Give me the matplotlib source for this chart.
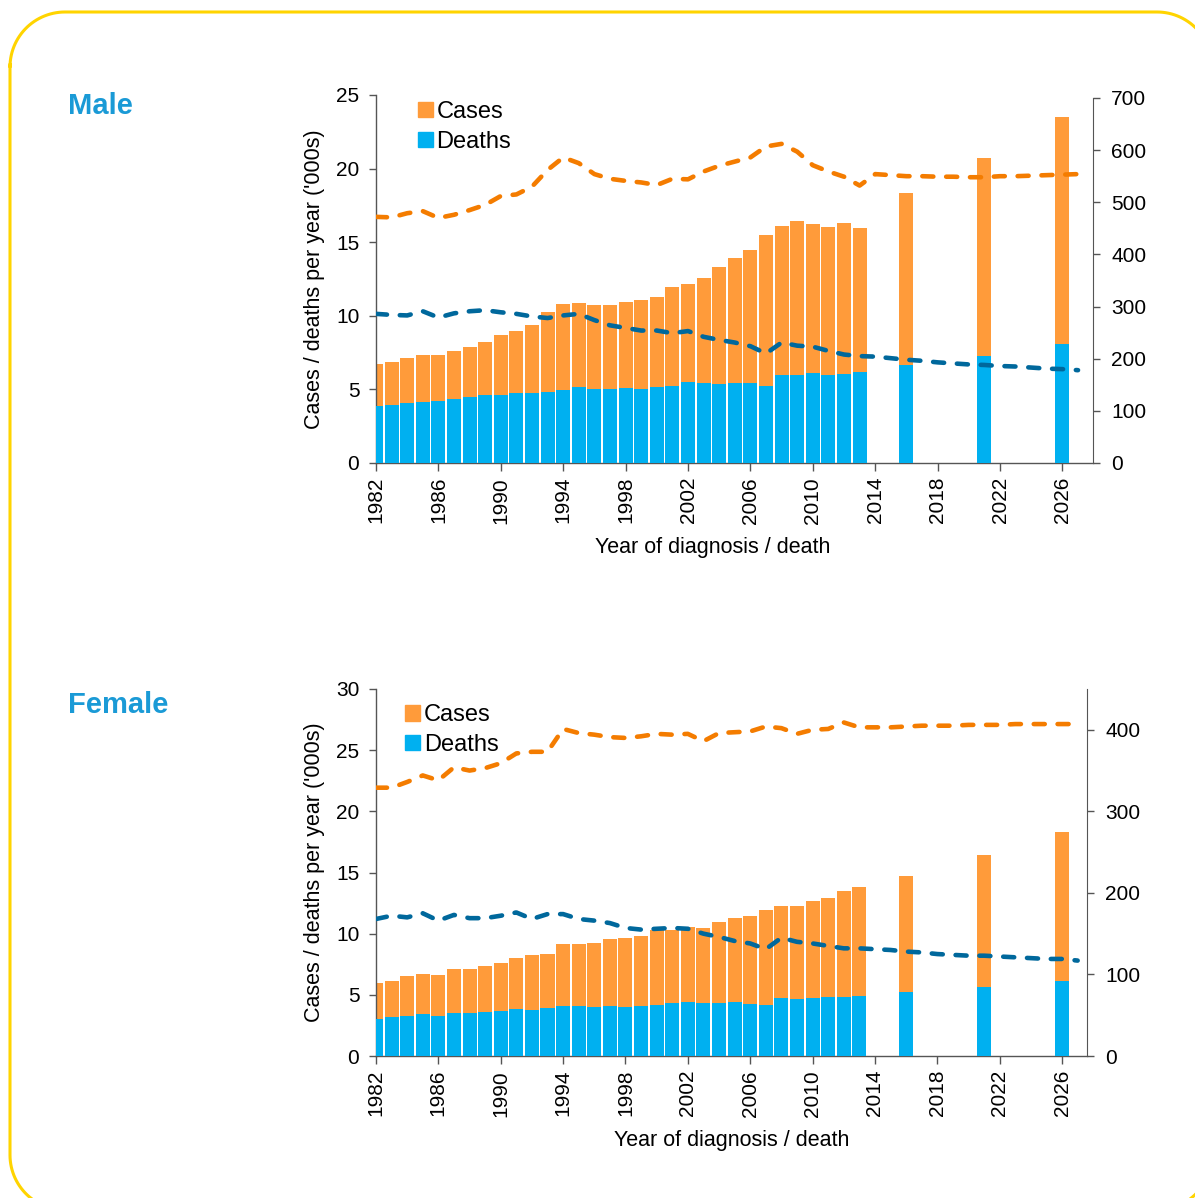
import numpy as np
import matplotlib
matplotlib.use('Agg')
from matplotlib import pyplot as plt
from matplotlib.lines import Line2D
from matplotlib.patches import Patch
from matplotlib.transforms import IdentityTransform

plt.rcParams['font.family'] = ['Liberation Sans', 'DejaVu Sans']

# years with observed data, projection years, and years for the rate lines
years = list(range(1982, 2014))
proj_years = [2016, 2021, 2026]
rate_years = list(range(1982, 2028))

# counts in '000s
male_cases = [6.70, 6.84, 7.13, 7.31, 7.31, 7.59, 7.88, 8.22, 8.70, 8.99, 9.38, 10.26, 10.82, 10.87, 10.71, 10.76,
              10.92, 11.10, 11.30, 11.93, 12.18, 12.59, 13.32, 13.91, 14.47, 15.49, 16.12, 16.44, 16.24, 16.05, 16.33, 15.99]
male_deaths = [3.87, 3.94, 4.08, 4.17, 4.21, 4.32, 4.48, 4.64, 4.60, 4.73, 4.76, 4.82, 4.98, 5.19, 5.05, 5.03,
               5.11, 5.05, 5.19, 5.25, 5.48, 5.43, 5.39, 5.43, 5.41, 5.25, 5.96, 5.96, 6.09, 6.00, 6.05, 6.18]
male_proj_cases = [18.32, 20.74, 23.53]
male_proj_deaths = [6.66, 7.29, 8.08]

female_cases = [5.99, 6.13, 6.54, 6.68, 6.65, 7.11, 7.14, 7.36, 7.58, 8.04, 8.23, 8.34, 9.13, 9.16, 9.24, 9.54,
                9.65, 9.81, 10.30, 10.33, 10.55, 10.44, 10.98, 11.26, 11.47, 11.96, 12.24, 12.24, 12.70, 12.95, 13.49, 13.79]
female_deaths = [3.03, 3.19, 3.27, 3.41, 3.30, 3.52, 3.49, 3.57, 3.65, 3.84, 3.76, 3.95, 4.09, 4.06, 4.01, 4.09,
                 3.98, 4.09, 4.17, 4.33, 4.42, 4.33, 4.33, 4.42, 4.28, 4.17, 4.71, 4.66, 4.77, 4.82, 4.85, 4.88]
female_proj_cases = [14.72, 16.46, 18.32]
female_proj_deaths = [5.21, 5.62, 6.16]

# rates (right axis), 1982-2027
male_case_rate = [472, 471, 479, 483, 470, 476, 485, 495, 512, 515, 530, 562, 586, 575, 554, 545,
                  541, 538, 533, 545, 544, 559, 570, 578, 586, 607, 612, 597, 571, 559, 549, 532,
                  554, 552, 550, 550, 549, 549, 548, 548, 550, 550, 551, 552, 553, 554]
male_death_rate = [286, 284, 283, 291, 279, 287, 291, 293, 289, 286, 281, 278, 283, 286, 274, 264,
                   259, 254, 254, 249, 253, 242, 236, 231, 224, 210, 231, 225, 223, 215, 208, 205,
                   204, 201, 198, 196, 193, 191, 189, 188, 186, 185, 183, 181, 180, 178]
female_case_rate = [329, 329, 336, 344, 338, 354, 350, 353, 359, 371, 373, 373, 401, 396, 394, 391,
                    390, 392, 395, 394, 395, 386, 396, 397, 398, 404, 402, 395, 400, 401, 409, 403,
                    403, 403, 404, 405, 405, 405, 406, 406, 406, 407, 407, 407, 407, 407]
female_death_rate = [168, 172, 170, 175, 166, 173, 169, 169, 172, 176, 168, 174, 174, 168, 166, 163,
                     157, 155, 156, 157, 156, 150, 146, 141, 138, 131, 145, 140, 138, 135, 132, 132,
                     131, 130, 128, 127, 125, 124, 123, 123, 122, 121, 120, 119, 119, 117]

xticks = list(range(1982, 2027, 4))

c_cases = '#FF9B3A'
c_deaths = '#00B0F0'
c_case_line = '#F47C00'
c_death_line = '#00689C'
c_head = '#1A9AD6'
c_axis = '#555555'

fig = plt.figure(figsize=(11.95, 11.98), dpi=100)

# rounded yellow frame in pixel coords (right and bottom edges run off the page)
r = 55
x0, x1, y0, y1 = 10, 1212, -12, 1186
corners = [((x0 + r, y1 - r), np.pi, np.pi / 2),
           ((x1 - r, y1 - r), np.pi / 2, 0),
           ((x1 - r, y0 + r), 0, -np.pi / 2),
           ((x0 + r, y0 + r), -np.pi / 2, -np.pi)]
fx, fy = [], []
for (cx, cy), a0, a1 in corners:
    a = np.linspace(a0, a1, 30)
    fx.extend(cx + r * np.cos(a))
    fy.extend(cy + r * np.sin(a))
fx.extend(fx[:2])
fy.extend(fy[:2])
frame = Line2D(fx, fy, transform=IdentityTransform(), color='#FFD400', lw=2.2,
               solid_capstyle='round', solid_joinstyle='round')
frame.set_snap(False)
fig.lines.append(frame)

FS = 15


def panel(rect, cases, deaths, pcases, pdeaths, crate, drate, ylim, rlim, rticks, xmax, rbound, legx, legy, xlabx):
    ax = fig.add_axes(rect)
    ax.bar(years + proj_years, cases + pcases, width=0.9, color=c_cases, zorder=2)
    ax.bar(years + proj_years, deaths + pdeaths, width=0.9, color=c_deaths, zorder=3)
    ax.set_xlim(1982, xmax)
    ax.set_ylim(0, ylim)
    ax.set_yticks(np.arange(0, ylim + 1, 5))
    ax.set_xticks(xticks)
    ax.set_xticklabels([str(x) for x in xticks], rotation=90)
    ax.spines['top'].set_visible(False)
    ax.spines['right'].set_visible(False)
    for s in ['left', 'bottom']:
        ax.spines[s].set_color(c_axis)
        ax.spines[s].set_linewidth(1.0)
    ax.tick_params(axis='y', labelsize=FS, length=5, width=1, color=c_axis, pad=7)
    ax.tick_params(axis='x', labelsize=FS, length=6, width=1, color=c_axis, pad=4)
    ax.set_ylabel("Cases / deaths per year ('000s)", fontsize=15.5, labelpad=8)
    ax.set_xlabel('Year of diagnosis / death', fontsize=15.5)
    ax.xaxis.set_label_coords(xlabx, -0.201)

    ax2 = ax.twinx()
    ax2.plot(rate_years, crate, color=c_case_line, lw=3.3, linestyle=(0, (2.4, 2.8)),
             dash_capstyle='round')
    ax2.plot(rate_years, drate, color=c_death_line, lw=3.3, linestyle=(0, (2.4, 2.8)),
             dash_capstyle='round')
    ax2.set_ylim(0, rlim)
    ax2.set_yticks(rticks)
    for s in ['top', 'left', 'bottom']:
        ax2.spines[s].set_visible(False)
    ax2.spines['right'].set_color(c_axis)
    ax2.spines['right'].set_bounds(0, rbound)
    ax2.tick_params(axis='y', labelsize=FS, length=5, width=1, color=c_axis, pad=8)

    handles = [Patch(color=c_cases, label='Cases'), Patch(color=c_deaths, label='Deaths')]
    ax.legend(handles=handles, loc='upper left', bbox_to_anchor=(legx, legy), frameon=False,
              fontsize=17, handlelength=0.65, handleheight=0.65, handletextpad=0.15, labelspacing=0.33,
              borderpad=0, borderaxespad=0)
    return ax, ax2


panel([376 / 1195, 1 - 463 / 1198, 717 / 1195, 368 / 1198],
      male_cases, male_deaths, male_proj_cases, male_proj_deaths, male_case_rate, male_death_rate,
      25, 705.7, list(range(0, 701, 100)), 2027.96, 700, 0.058, 0.984, 0.47)

panel([376 / 1195, 1 - 1056 / 1198, 711 / 1195, 367 / 1198],
      female_cases, female_deaths, female_proj_cases, female_proj_deaths, female_case_rate, female_death_rate,
      30, 450, list(range(0, 401, 100)), 2027.6, 450, 0.041, 0.959, 0.5)

fig.text(68 / 1195, 1 - 106 / 1198, 'Male', color=c_head, fontsize=21, fontweight='bold', va='center')
fig.text(68 / 1195, 1 - 705 / 1198, 'Female', color=c_head, fontsize=21, fontweight='bold', va='center')

fig.savefig('out.png', dpi=100)
